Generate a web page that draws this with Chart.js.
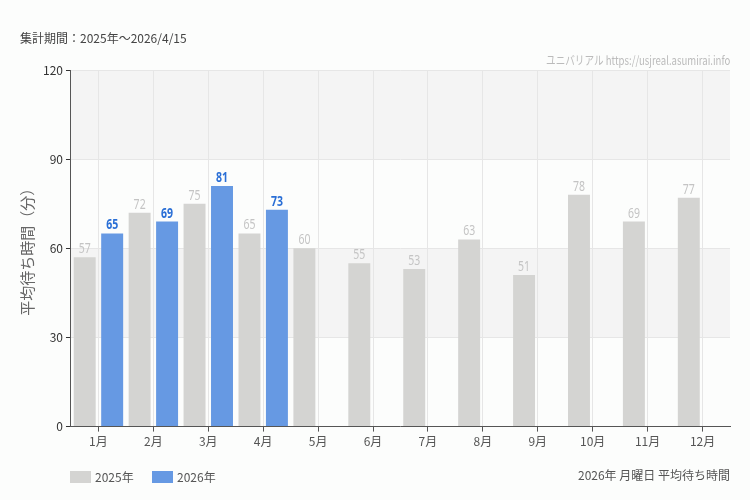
<!DOCTYPE html>
<html><head><meta charset="utf-8">
<script src="https://cdn.jsdelivr.net/npm/chart.js@4/dist/chart.umd.min.js"></script>
<style>
html,body{margin:0;background:#fcfdfc;font-family:"Noto Sans CJK JP",sans-serif;}
#wrap{position:relative;width:750px;height:500px;}
.t{position:absolute;font-size:12px;color:#444;white-space:nowrap;}
.lg{position:absolute;top:468px;font-size:12px;color:#555;display:flex;align-items:center;}
.lg i{display:inline-block;width:21px;height:12px;margin-right:4px;}
</style></head><body>
<div id="wrap">
<div class="t" style="left:20px;top:29px;">集計期間：2025年～2026/4/15</div>
<div class="t" style="right:20px;top:51px;color:#bbb;transform:scaleX(0.8);transform-origin:right;">ユニバリアル https://usjreal.asumirai.info</div>
<div class="t" style="right:20px;top:466px;color:#555;">2026年 月曜日 平均待ち時間</div>
<div class="lg" style="left:70px;"><i style="background:#d4d4d2"></i>2025年</div>
<div class="lg" style="left:152px;"><i style="background:#6699e3"></i>2026年</div>
<canvas id="c" width="750" height="500"></canvas>
</div>
<script>
const months = ["1月","2月","3月","4月","5月","6月","7月","8月","9月","10月","11月","12月"];
const wait2025 = [57,72,75,65,60,55,53,63,51,78,69,77];
const wait2026 = [65,69,81,73,null,null,null,null,null,null,null,null];
const yTicks = [0,30,60,90,120];

const bands = {
  id: "bands",
  beforeDraw(chart) {
    const {ctx, chartArea: a, scales: {y}} = chart;
    ctx.save();
    ctx.fillStyle = "#f4f4f4";
    [[90,120],[30,60]].forEach(([lo,hi]) => {
      ctx.fillRect(a.left, y.getPixelForValue(hi), a.right - a.left, y.getPixelForValue(lo) - y.getPixelForValue(hi));
    });
    ctx.restore();
  }
};
const labels = {
  id: "labels",
  afterDatasetsDraw(chart) {
    const ctx = chart.ctx;
    chart.data.datasets.forEach((ds, i) => {
      chart.getDatasetMeta(i).data.forEach((bar, j) => {
        if (ds.data[j] == null) return;
        ctx.save();
        ctx.translate(bar.x, bar.y - 1);
        ctx.scale(0.75, 1);
        ctx.font = (i === 0 ? "" : "bold ") + "14px 'Noto Sans', sans-serif";
        ctx.fillStyle = i === 0 ? "#c4c4c4" : "#2a6fd6";
        ctx.textAlign = "center";
        ctx.textBaseline = "bottom";
        ctx.fillText(ds.data[j], 0, 0);
        ctx.restore();
      });
    });
  }
};

new Chart(document.getElementById("c"), {
  type: "bar",
  data: {
    labels: months,
    datasets: [
      { label: "2025年", data: wait2025, backgroundColor: "#d4d4d2", barPercentage: 0.8, categoryPercentage: 1 },
      { label: "2026年", data: wait2026, backgroundColor: "#6699e3", barPercentage: 0.8, categoryPercentage: 1 }
    ]
  },
  plugins: [bands, labels],
  options: {
    responsive: false,
    animation: false,
    layout: { padding: { left: 14, right: 20, top: 70, bottom: 48 } },
    plugins: { legend: { display: false }, tooltip: { enabled: false } },
    scales: {
      x: {
        grid: { offset: false, color: "#e6e6e6", drawTicks: true, tickColor: "#555", tickLength: 5 },
        border: { color: "#555" },
        ticks: { color: "#555", font: { size: 12, family: "Noto Sans CJK JP" } }
      },
      y: {
        min: 0, max: 120,
        afterBuildTicks(s) { s.ticks = yTicks.map(v => ({ value: v })); },
        grid: { color: "#e6e6e6", tickColor: "#333", tickLength: 5 },
        border: { color: "#555" },
        ticks: { color: "#333", font: { size: 12, family: "Noto Sans CJK JP" } },
        title: { display: true, text: "平均待ち時間（分）", color: "#666", font: { size: 15, family: "Noto Sans CJK JP" } }
      }
    }
  }
});
</script>
</body></html>
